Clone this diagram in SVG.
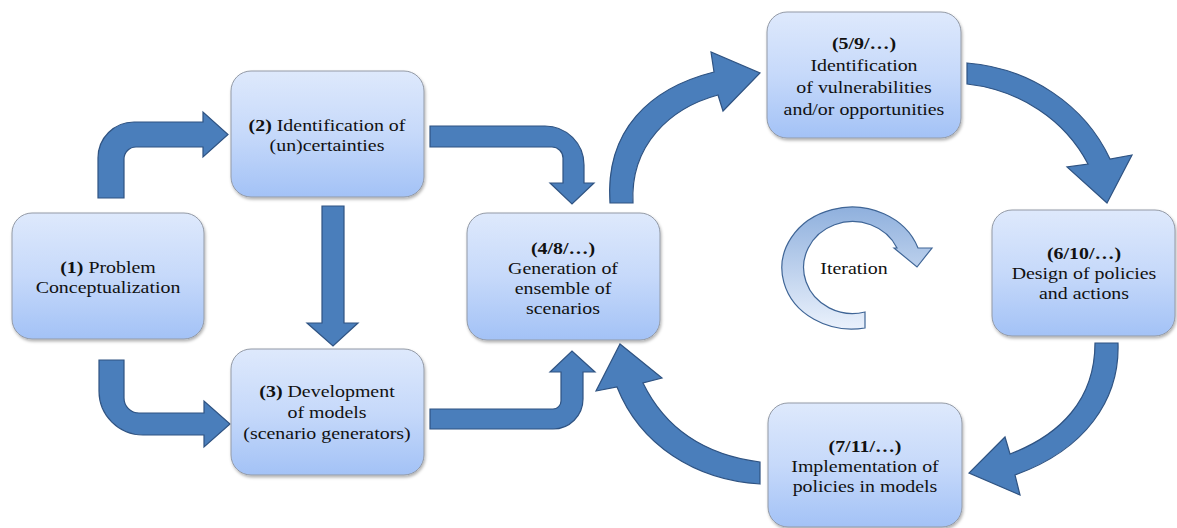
<svg xmlns="http://www.w3.org/2000/svg" width="1177" height="528" viewBox="0 0 1177 528">
<defs>
<linearGradient id="nodeGrad" x1="0" y1="0" x2="0" y2="1">
<stop offset="0" stop-color="#dee9fc"/>
<stop offset="0.5" stop-color="#c6d9fa"/>
<stop offset="1" stop-color="#a3c2f6"/>
</linearGradient>
<linearGradient id="iterGrad" x1="0" y1="0" x2="0" y2="1">
<stop offset="0" stop-color="#8fb0dd"/>
<stop offset="1" stop-color="#eaf1fc"/>
</linearGradient>
<filter id="shadow" x="-10%" y="-10%" width="125%" height="130%">
<feDropShadow dx="1" dy="2" stdDeviation="1.5" flood-color="#000" flood-opacity="0.3"/>
</filter>
</defs>
<style>
.node rect { fill: url(#nodeGrad); stroke: #939aa6; stroke-width: 1; filter: url(#shadow); }
text { font-family: 'Liberation Serif', 'Times New Roman', Times, 'DejaVu Serif', serif; font-size: 17px; fill: #111; text-anchor: middle; }
.b { font-weight: bold; }
.arrow { fill: #4a7ebb; stroke: #2f5382; stroke-width: 1.2; stroke-linejoin: miter; }
.iter { fill: url(#iterGrad); stroke: #3f6596; stroke-width: 1.2; }
</style>
<rect width="1177" height="528" fill="#ffffff"/>

<g id="connectors">
<path class="arrow" d="M98,198 L98,158 A36,36 0 0 1 134,122 L203,122 L203,112 L228,134.5 L203,157 L203,147 L136,147 A12,12 0 0 0 124,159 L124,198 Z"/>
<path class="arrow" d="M322,206 L344,206 L344,323 L358,323 L333,346 L307,323 L322,323 Z"/>
<path class="arrow" d="M99,360 L124,360 L124,398 A15,15 0 0 0 139,413 L204,413 L204,401 L230,424 L204,447 L204,435 L143,435 A44,44 0 0 1 99,391 Z"/>
<path class="arrow" d="M430,126 L545,126 A39,39 0 0 1 584,165 L584,183 L594,183 L572,204 L550,183 L563,183 L563,158 A11,11 0 0 0 552,147 L430,147 Z"/>
<path class="arrow" d="M430,409 L553,409 A8,8 0 0 0 561,401 L561,372 L550,372 L572,351 L595,372 L583,372 L583,399 A30,30 0 0 1 553,429 L430,429 Z"/>
<path class="arrow" d="M610,203 C605,130 650,88 714,72 L711,52 L760,73 L723,111 L718,95 C670,108 630,145 633,203 Z"/>
<path class="arrow" d="M967,63 C1030,68 1085,105 1110,159 L1132,155 L1107,203 L1067,167 L1088,164 C1065,120 1020,90 967,84 Z"/>
<path class="arrow" d="M1095,343 L1118,343 C1120,400 1085,450 1015,475 L1020,495 L969,473 L1005,437 L1010,454 C1060,435 1095,400 1095,343 Z"/>
<path class="arrow" d="M760,462 C705,455 665,428 643,383 L662,378 L620,344 L596,391 L617,387 C640,445 695,480 760,484 Z"/>
</g>

<g id="iteration">
<path class="iter" d="M865,328 A70,61 0 1 1 918,248 L932,248 L917,267 L894,248 L897,248 A49,46 0 1 0 865,312 Z"/>
<g transform="translate(854,0) scale(1.17,1)"><text x="0" y="274">Iteration</text></g>
</g>

<g id="node1" class="node">
<rect x="12" y="213" width="192" height="126" rx="20"/>
<g transform="translate(108,0) scale(1.17,1)">
<text x="0" y="273"><tspan class="b">(1)</tspan> Problem</text>
<text x="0" y="293">Conceptualization</text>
</g>
</g>

<g id="node2" class="node">
<rect x="231" y="71" width="193" height="126" rx="20"/>
<g transform="translate(327,0) scale(1.17,1)">
<text x="0" y="131"><tspan class="b">(2)</tspan> Identification of</text>
<text x="0" y="151">(un)certainties</text>
</g>
</g>

<g id="node3" class="node">
<rect x="231" y="349" width="193" height="126" rx="20"/>
<g transform="translate(327,0) scale(1.17,1)">
<text x="0" y="397"><tspan class="b">(3)</tspan> Development</text>
<text x="0" y="418">of models</text>
<text x="0" y="439">(scenario generators)</text>
</g>
</g>

<g id="node4" class="node">
<rect x="467" y="213" width="193" height="127" rx="20"/>
<g transform="translate(563,0) scale(1.17,1)">
<text x="0" y="254" class="b">(4/8/…)</text>
<text x="0" y="274">Generation of</text>
<text x="0" y="294">ensemble of</text>
<text x="0" y="314">scenarios</text>
</g>
</g>

<g id="node5" class="node">
<rect x="767" y="12" width="194" height="126" rx="20"/>
<g transform="translate(864,0) scale(1.17,1)">
<text x="0" y="49" class="b">(5/9/…)</text>
<text x="0" y="71">Identification</text>
<text x="0" y="93">of vulnerabilities</text>
<text x="0" y="115">and/or opportunities</text>
</g>
</g>

<g id="node6" class="node">
<rect x="992" y="210" width="183" height="126" rx="20"/>
<g transform="translate(1084,0) scale(1.17,1)">
<text x="0" y="259" class="b">(6/10/…)</text>
<text x="0" y="279">Design of policies</text>
<text x="0" y="299">and actions</text>
</g>
</g>

<g id="node7" class="node">
<rect x="768" y="403" width="194" height="124" rx="20"/>
<g transform="translate(865,0) scale(1.17,1)">
<text x="0" y="452" class="b">(7/11/…)</text>
<text x="0" y="472">Implementation of</text>
<text x="0" y="492">policies in models</text>
</g>
</g>
</svg>
